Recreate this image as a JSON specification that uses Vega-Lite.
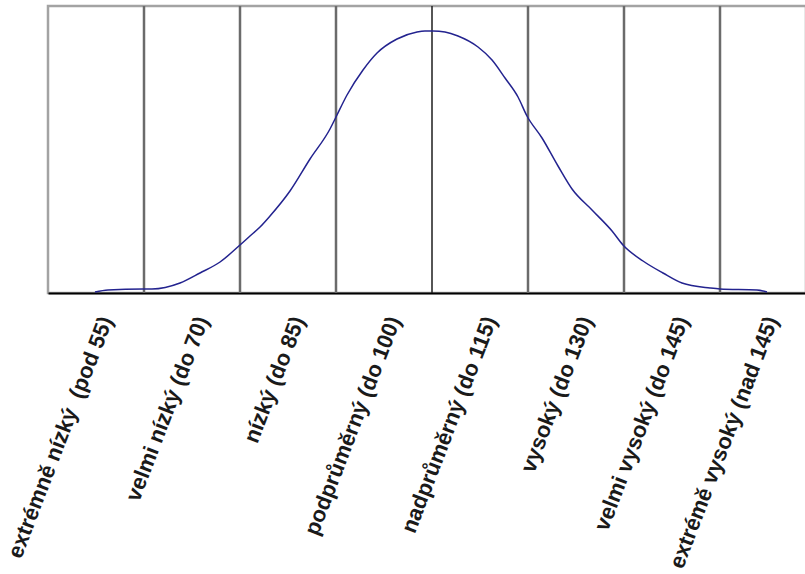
{
  "$schema": "https://vega.github.io/schema/vega-lite/v6.json",
  "width": 758,
  "height": 287,
  "autosize": {"type": "none"},
  "padding": {"left": 48, "top": 6, "right": 0, "bottom": 281},
  "background": "white",
  "config": {"view": {"stroke": "#a3a3a3", "strokeWidth": 2.5}},
  "datasets": {
    "bounds": [{"v": 55}, {"v": 70}, {"v": 85}, {"v": 100}, {"v": 115}, {"v": 130}, {"v": 145}],
    "curve": [
      {"iq": 47.34, "d": 1},
      {"iq": 49.37, "d": 3},
      {"iq": 54.84, "d": 4},
      {"iq": 56.25, "d": 4},
      {"iq": 60.63, "d": 10},
      {"iq": 63.75, "d": 20},
      {"iq": 66.88, "d": 31},
      {"iq": 70.0, "d": 48},
      {"iq": 71.56, "d": 57},
      {"iq": 73.13, "d": 66},
      {"iq": 74.69, "d": 77},
      {"iq": 77.81, "d": 102},
      {"iq": 80.94, "d": 134},
      {"iq": 84.06, "d": 164},
      {"iq": 85.0, "d": 176},
      {"iq": 86.72, "d": 198},
      {"iq": 89.22, "d": 223},
      {"iq": 91.41, "d": 240},
      {"iq": 94.53, "d": 254},
      {"iq": 97.66, "d": 261},
      {"iq": 98.9, "d": 262},
      {"iq": 100.16, "d": 262},
      {"iq": 102.03, "d": 261},
      {"iq": 104.06, "d": 257},
      {"iq": 107.19, "d": 246},
      {"iq": 109.38, "d": 233},
      {"iq": 111.41, "d": 215},
      {"iq": 113.44, "d": 196},
      {"iq": 114.84, "d": 177},
      {"iq": 117.19, "d": 155},
      {"iq": 119.69, "d": 127},
      {"iq": 121.88, "d": 104},
      {"iq": 125.0, "d": 83},
      {"iq": 128.13, "d": 62},
      {"iq": 129.84, "d": 48},
      {"iq": 132.97, "d": 32},
      {"iq": 136.09, "d": 20},
      {"iq": 139.06, "d": 10},
      {"iq": 143.44, "d": 5},
      {"iq": 145.0, "d": 4},
      {"iq": 150.78, "d": 3},
      {"iq": 152.34, "d": 1}
    ]
  },
  "layer": [
    {
      "data": {"name": "bounds"},
      "mark": {"type": "rule"},
      "encoding": {
        "x": {
          "field": "v",
          "type": "quantitative",
          "scale": {"domain": [40, 158.4375], "nice": false, "zero": false},
          "axis": {
            "values": [47.5, 62.5, 77.5, 92.5, 107.5, 122.5, 137.5, 151.5],
            "labelExpr": "['extrémně nízký\u00a0 (pod 55)','velmi nízký (do 70)','nízký (do 85)','podprůměrný (do 100)','nadprůměrný (do 115)','vysoký (do 130)','velmi vysoký (do 145)','extrémě vysoký (nad 145)'][round((datum.value-47.5)/15)]",
            "labelAngle": -69,
            "labelOffset": 10,
            "labelPadding": 24,
            "labelLimit": 0,
            "ticks": false,
            "grid": false,
            "domain": true,
            "domainColor": "#000000",
            "domainWidth": 2,
            "labelFont": "Liberation Sans",
            "labelFontSize": 22,
            "labelFontWeight": "bold",
            "labelColor": "#1a1a1a",
            "labelOverlap": false,
            "labelBound": false,
            "labelFlush": false,
            "title": null
          }
        },
        "color": {"condition": {"test": "datum.v == 100", "value": "#1e1e1e"}, "value": "#6b6b6b"},
        "strokeWidth": {"condition": {"test": "datum.v == 100", "value": 1.5}, "value": 2.5}
      }
    },
    {
      "data": {"name": "curve"},
      "mark": {"type": "line", "color": "#23238f", "strokeWidth": 1.5, "interpolate": "monotone"},
      "encoding": {
        "x": {"field": "iq", "type": "quantitative"},
        "y": {"field": "d", "type": "quantitative", "scale": {"domain": [0, 287], "nice": false}, "axis": null}
      }
    }
  ]
}
